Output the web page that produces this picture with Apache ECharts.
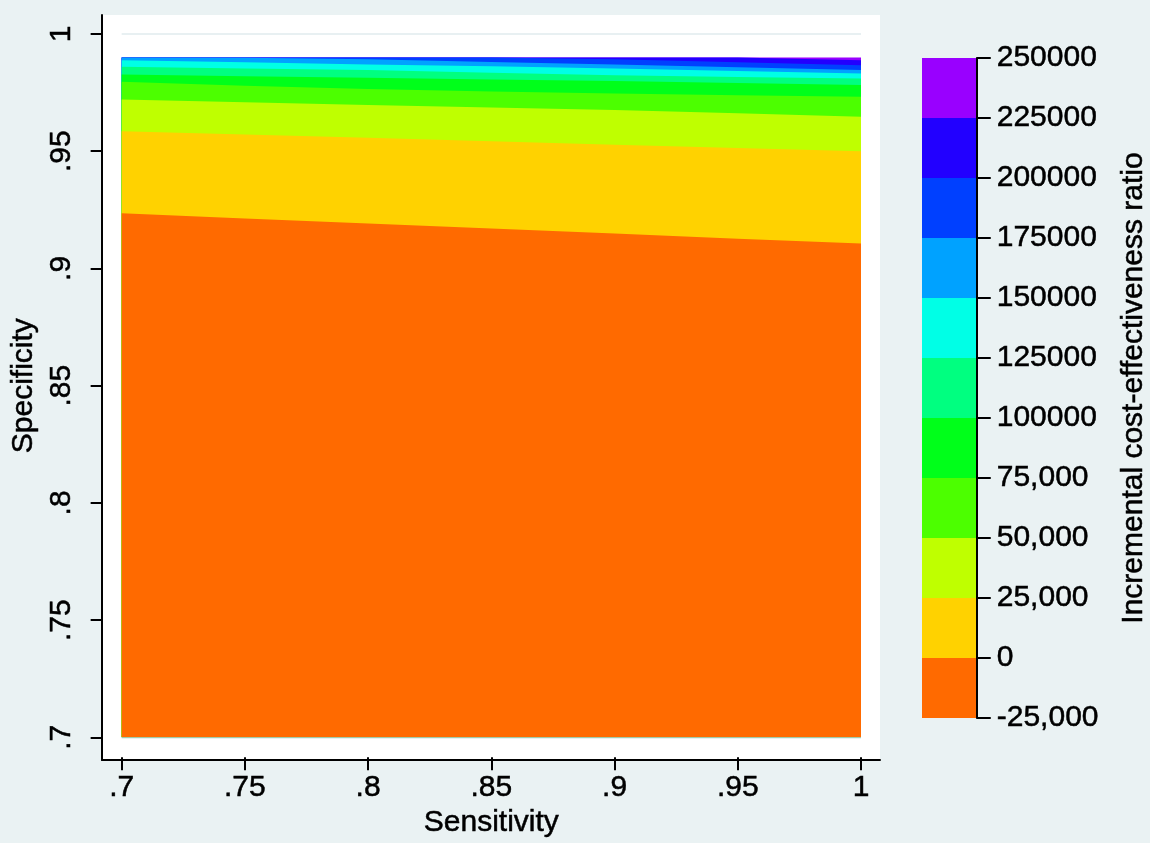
<!DOCTYPE html>
<html>
<head>
<meta charset="utf-8">
<script src="https://cdn.jsdelivr.net/npm/echarts@6/dist/echarts.min.js"></script>
<style>
html,body{margin:0;padding:0;background:#eaf2f3;}
#chart{width:1150px;height:843px;}
</style>
</head>
<body>
<div id="chart"></div>
<script>
// ---- data ----
const sensitivity = [0.70, 0.75, 0.80, 0.85, 0.90, 0.95, 1.00];
const xTickLabels = ['.7', '.75', '.8', '.85', '.9', '.95', '1'];
const yTickLabels = ['.7', '.75', '.8', '.85', '.9', '.95', '1'];
// specificity of each contour boundary (ICER level) at each sensitivity
const specTop  = [0.990, 0.990, 0.990, 0.990, 0.990, 0.990, 0.990];
const spec225k = [0.990, 0.990, 0.990, 0.990, 0.990, 0.990, 0.9888];
const spec200k = [0.990, 0.990, 0.990, 0.990, 0.9892, 0.9880, 0.9867];
const spec175k = [0.990, 0.9899, 0.9892, 0.9881, 0.9870, 0.9858, 0.9846];
const spec150k = [0.9888, 0.9879, 0.9870, 0.9862, 0.9853, 0.9842, 0.9831];
const spec125k = [0.9860, 0.9853, 0.9846, 0.9835, 0.9824, 0.9817, 0.9810];
const spec100k = [0.9827, 0.9820, 0.9813, 0.9806, 0.9799, 0.9791, 0.9782];
const spec75k  = [0.9796, 0.9779, 0.9765, 0.9755, 0.9746, 0.9739, 0.9732];
const spec50k  = [0.9721, 0.9709, 0.9697, 0.9686, 0.9676, 0.9662, 0.9647];
const spec25k  = [0.9585, 0.9571, 0.9557, 0.9543, 0.9528, 0.9514, 0.9500];
const spec0    = [0.9235, 0.9213, 0.9192, 0.9170, 0.9149, 0.9127, 0.9106];
// legend levels and band colours (band i spans legendLevels[i]..legendLevels[i+1])
const legendLevels = [-25000, 0, 25000, 50000, 75000, 100000, 125000, 150000, 175000, 200000, 225000, 250000];
const legendLabels = ['-25,000', '0', '25,000', '50,000', '75,000', '100000', '125000', '150000', '175000', '200000', '225000', '250000'];
const bandColors = ['#ff6a00', '#ffd200', '#bfff00', '#4cff00', '#00ff1a', '#00ff80', '#00ffe6', '#00a2ff', '#0040ff', '#2200ff', '#9900ff'];

// boundaries from top down, each filled with the band colour just below it
const boundaries = [
  {spec: specTop, color: bandColors[10]},
  {spec: spec225k, color: bandColors[9]},
  {spec: spec200k, color: bandColors[8]},
  {spec: spec175k, color: bandColors[7]},
  {spec: spec150k, color: bandColors[6]},
  {spec: spec125k, color: bandColors[5]},
  {spec: spec100k, color: bandColors[4]},
  {spec: spec75k, color: bandColors[3]},
  {spec: spec50k, color: bandColors[2]},
  {spec: spec25k, color: bandColors[1]},
  {spec: spec0, color: bandColors[0]}
];

const FONT = '"Liberation Sans", Arial, sans-serif';
const FS = 30;
const txt = {color: '#000', fontSize: FS, fontFamily: FONT, textBorderColor: '#000', textBorderWidth: 0.5};

const chart = echarts.init(document.getElementById('chart'), null, {renderer: 'canvas'});

const series = boundaries.map((b, i) => ({
  type: 'line',
  xAxisIndex: 0, yAxisIndex: 0,
  data: sensitivity.map((s, j) => [s, b.spec[j]]),
  symbol: 'none',
  lineStyle: {width: 0},
  areaStyle: {color: b.color, opacity: 1, origin: 'start'},
  z: 3 + i,
  silent: true,
  animation: false
}));

series.push({
  type: 'custom',
  xAxisIndex: 2, yAxisIndex: 2,
  data: bandColors.map((c, i) => [legendLevels[i], legendLevels[i + 1], i]),
  renderItem: function (params, api) {
    const lo = api.value(0), hi = api.value(1), idx = api.value(2);
    const p1 = api.coord([0, hi]);
    const p2 = api.coord([1, lo]);
    return {
      type: 'rect',
      shape: {x: p1[0], y: p1[1], width: p2[0] - p1[0], height: p2[1] - p1[1]},
      style: {fill: bandColors[idx]}
    };
  },
  silent: true,
  animation: false,
  z: 2
});

const option = {
  backgroundColor: '#eaf2f3',
  animation: false,
  textStyle: {fontFamily: FONT},
  grid: [
    {left: 121, right: 289, top: 34, bottom: 103, show: false},
    {left: 102, right: 270, top: 15, bottom: 83, show: true, backgroundColor: '#ffffff', borderWidth: 0, z: 0},
    {left: 922, right: 172, top: 58, bottom: 125, show: false}
  ],
  xAxis: [
    {
      type: 'value', gridIndex: 0, min: 0.7, max: 1, interval: 0.05, offset: 20,
      axisLine: {show: false, onZero: false},
      axisTick: {show: true, length: 13, lineStyle: {color: '#000', width: 2}},
      axisLabel: Object.assign({margin: 15,
        formatter: v => xTickLabels[Math.round((v - 0.7) / 0.05)]}, txt),
      splitLine: {show: false},
      name: 'Sensitivity', nameLocation: 'middle', nameGap: 50,
      nameTextStyle: txt
    },
    {
      type: 'value', gridIndex: 1, min: 0, max: 1,
      axisLine: {show: true, onZero: false, lineStyle: {color: '#000', width: 2}},
      axisTick: {show: false}, axisLabel: {show: false}, splitLine: {show: false}
    },
    {
      type: 'value', gridIndex: 2, min: 0, max: 1, show: false
    }
  ],
  yAxis: [
    {
      type: 'value', gridIndex: 0, min: 0.7, max: 1, interval: 0.05, offset: 19,
      axisLine: {show: false, onZero: false},
      axisTick: {show: true, length: 12, lineStyle: {color: '#000', width: 2}},
      axisLabel: Object.assign({margin: 26, rotate: 90,
        formatter: v => yTickLabels[Math.round((v - 0.7) / 0.05)]}, txt),
      splitLine: {show: true, lineStyle: {color: '#e1ebee', width: 1.5}},
      name: 'Specificity', nameLocation: 'middle', nameGap: 56, nameRotate: 90,
      nameTextStyle: txt
    },
    {
      type: 'value', gridIndex: 1, min: 0, max: 1,
      axisLine: {show: true, onZero: false, lineStyle: {color: '#000', width: 2}},
      axisTick: {show: false}, axisLabel: {show: false}, splitLine: {show: false}
    },
    {
      type: 'value', gridIndex: 2, position: 'right', min: -25000, max: 250000, interval: 25000, z: 10,
      axisLine: {show: true, onZero: false, lineStyle: {color: '#000', width: 2}},
      axisTick: {show: true, length: 14, lineStyle: {color: '#000', width: 2}},
      axisLabel: Object.assign({margin: 20,
        formatter: v => legendLabels[Math.round((v + 25000) / 25000)]}, txt),
      splitLine: {show: false},
      name: 'Incremental cost-effectiveness ratio', nameLocation: 'middle', nameGap: 142, nameRotate: 90,
      nameTextStyle: txt
    }
  ],
  series: series
};
chart.setOption(option);
</script>
</body>
</html>
